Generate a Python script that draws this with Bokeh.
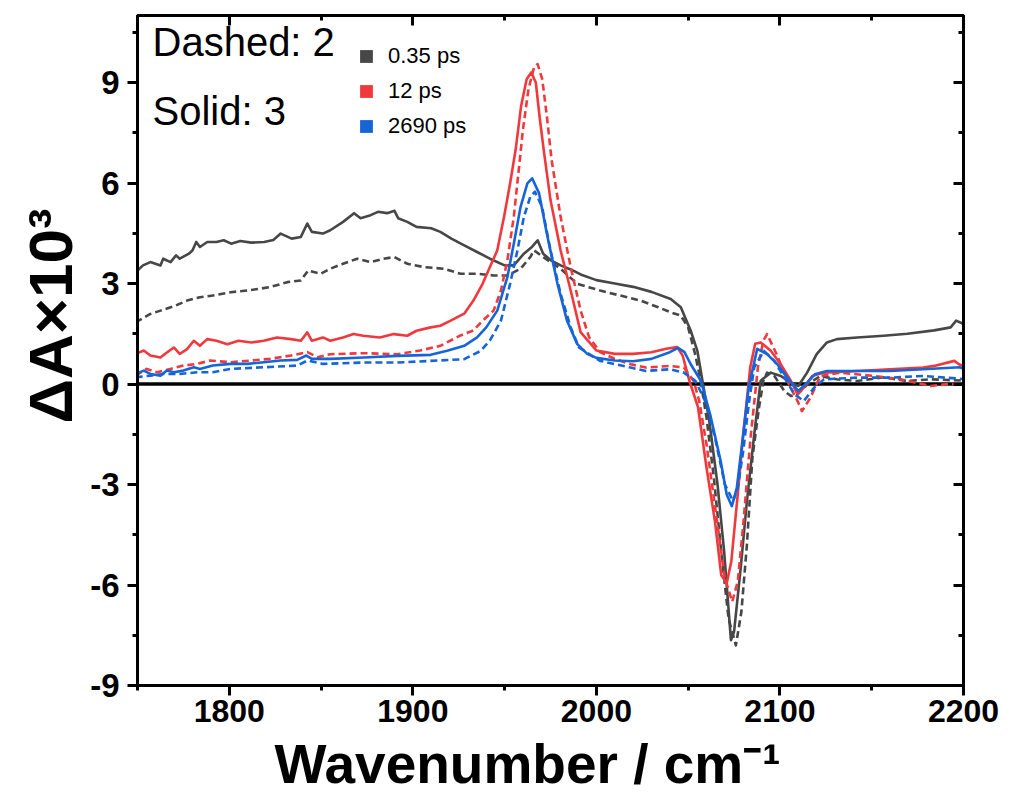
from bokeh.plotting import figure
from bokeh.models import LinearAxis, FixedTicker, Label, Legend, LegendItem, Span
from bokeh.embed import file_html
from bokeh.resources import INLINE

# ---------------- data (wavenumber cm^-1, dA x 10^3) ----------------
gray_solid = [(1749,3.34),(1753,3.54),(1757,3.64),(1762.5,3.54),(1764,3.74),(1768,3.64),(1771,3.84),(1773,3.74),
    (1778,3.89),(1780,3.99),(1782,4.24),(1784,4.09),(1788,4.24),(1793,4.24),(1797,4.29),(1801,4.19),(1806,4.27),
    (1812,4.22),(1819,4.24),(1824,4.30),(1828,4.49),(1834,4.34),(1839,4.39),(1842.5,4.79),(1845,4.54),(1851,4.49),
    (1855,4.59),(1862,4.84),(1868,5.10),(1871.5,4.95),(1877,5.04),(1881,5.14),(1886,5.10),(1890,5.17),(1892,4.95),
    (1897,4.84),(1902,4.69),(1910,4.65),(1915,4.54),(1921,4.34),(1928,4.14),(1935,3.94),(1942,3.74),(1950,3.54),
    (1955,3.54),(1960.5,3.89),(1965,4.10),(1968,4.29),(1971,3.89),(1975,3.70),(1980.5,3.54),(1986,3.42),(1991.4,3.27),
    (2000,3.10),(2010,3.00),(2020,2.90),(2030,2.75),(2040.5,2.54),(2046,2.29),(2051.4,1.59),(2055,0.99),(2057.8,0.09),
    (2061.5,-1.10),(2066,-3.00),(2069.6,-5.00),(2073.3,-7.65),(2075,-7.40),(2078.6,-5.50),(2082,-3.50),(2086,-1.50),
    (2089.5,0.10),(2095,0.34),(2100.4,0.24),(2106,0.04),(2110,-0.06),(2114.8,0.34),(2120,0.89),(2125.6,1.24),
    (2131,1.34),(2142,1.39),(2156.5,1.44),(2169.4,1.50),(2184,1.60),(2193,1.69),(2196,1.89),(2200,1.79)]

gray_dashed = [(1749,1.84),(1757,2.09),(1762.5,2.19),(1770.7,2.34),(1777,2.49),(1784,2.59),(1791,2.64),(1800.7,2.74),
    (1809.8,2.79),(1822,2.89),(1831.6,3.04),(1839,3.09),(1843,3.39),(1849.7,3.29),(1855,3.44),(1862,3.59),
    (1869.7,3.74),(1877,3.64),(1884,3.74),(1890,3.79),(1897,3.59),(1906,3.49),(1917,3.44),(1926,3.29),(1935,3.29),
    (1944,3.24),(1951.5,3.24),(1958.7,3.44),(1964,3.79),(1966,3.99),(1971,3.79),(1980.5,3.44),(1989.6,2.99),
    (2002,2.79),(2013,2.64),(2024,2.49),(2033.7,2.29),(2040.5,2.14),(2046,2.04),(2050,1.69),(2053.8,0.89),
    (2056.5,0.19),(2060,-1.00),(2064,-2.80),(2068,-5.00),(2072,-7.00),(2076,-7.80),(2079,-6.80),(2082,-4.80),
    (2085,-2.20),(2088.6,-0.70),(2091,0.10),(2093,0.34),(2097,0.24),(2102.4,-0.21),(2106,-0.36),(2109.6,-0.31),
    (2115,-0.01),(2122,0.24),(2131,0.14),(2142,0.09),(2156.5,0.20),(2169,0.09),(2182,0.14),(2200,0.10)]

red_solid = [(1749,0.90),(1753.4,1.00),(1757,0.85),(1762.5,0.79),(1766,0.94),(1769.8,1.09),(1773,0.90),(1777,1.04),
    (1780.7,1.29),(1784,1.14),(1788,1.34),(1793,1.29),(1799,1.19),(1805,1.29),(1812,1.24),(1818.8,1.29),(1826,1.39),
    (1833.6,1.34),(1839,1.29),(1842.5,1.54),(1845,1.29),(1851,1.39),(1855,1.29),(1862,1.39),(1867.7,1.49),(1873,1.44),
    (1882,1.39),(1889.6,1.49),(1897,1.44),(1902,1.59),(1909.7,1.69),(1915,1.74),(1920.6,1.89),(1928,2.10),(1933,2.49),
    (1938,2.99),(1942,3.49),(1946,3.99),(1949.7,4.99),(1953,5.99),(1956,6.99),(1959,8.30),(1962,9.10),(1964.5,9.30),
    (1967,9.00),(1969,8.00),(1971.3,6.99),(1975,5.49),(1980.5,3.99),(1986,2.79),(1991.4,1.55),(2000,1.00),(2010,0.90),
    (2020,0.90),(2030,0.95),(2038,1.05),(2044,1.10),(2047,0.85),(2050.7,0.09),(2055.4,-0.70),(2060,-2.50),
    (2064.6,-4.10),(2068,-5.70),(2071,-5.95),(2073.5,-5.30),(2077,-3.30),(2080,-1.50),(2083.8,0.49),(2086.5,1.20),
    (2089.5,1.24),(2095,0.99),(2100.4,0.59),(2106,0.09),(2109.6,-0.31),(2113,-0.11),(2117.6,0.24),(2124,0.34),
    (2142,0.39),(2160,0.44),(2178,0.49),(2184,0.54),(2195,0.69),(2197.5,0.59),(2200,0.54)]

red_dashed = [(1749,0.25),(1755,0.45),(1760.7,0.35),(1768,0.45),(1775,0.55),(1782.5,0.60),(1789.6,0.70),(1800.7,0.65),
    (1812,0.70),(1822,0.75),(1833.6,0.85),(1842.5,0.95),(1848,0.80),(1855,0.89),(1873,0.92),(1891.6,0.89),(1904,1.00),
    (1915,1.14),(1926,1.45),(1933,1.60),(1938,1.89),(1944,2.19),(1948,2.79),(1951.5,3.69),(1955,4.99),(1957.7,6.39),
    (1960,7.60),(1963,8.80),(1966,9.45),(1968,9.55),(1970.5,9.10),(1973,8.00),(1975.6,6.69),(1980.5,4.99),(1986,3.49),
    (1991.4,2.20),(1996,1.40),(2002,0.95),(2010,0.75),(2018.7,0.59),(2027,0.49),(2040,0.54),(2047.7,0.49),(2053,0.09),
    (2056,-0.50),(2060,-1.80),(2065,-3.80),(2070,-5.80),(2074,-6.50),(2077,-5.90),(2080,-4.20),(2084,-1.60),(2088,0.50),
    (2091,1.30),(2093,1.49),(2098.6,0.84),(2104,0.09),(2109.6,-0.51),(2112,-0.81),(2116.6,-0.41),(2122,0.24),
    (2133,0.34),(2151,0.24),(2165.8,0.14),(2182,-0.06),(2192,0.00),(2200,-0.02)]

blue_solid = [(1749,0.30),(1753.4,0.40),(1757,0.30),(1762.5,0.25),(1766,0.40),(1769.8,0.35),(1775,0.40),(1780.7,0.50),
    (1784,0.45),(1791,0.55),(1800.7,0.60),(1809.8,0.60),(1818.8,0.65),(1828,0.70),(1837,0.72),(1842,0.85),(1845,0.75),
    (1855,0.75),(1873.4,0.79),(1891.6,0.84),(1909.7,0.87),(1918.7,0.99),(1928,1.14),(1935,1.39),(1940,1.69),(1946,2.19),
    (1951.5,3.19),(1955,4.19),(1958.7,5.29),(1962.4,5.99),(1965,6.14),(1968.8,5.69),(1973,4.49),(1978.8,2.99),
    (1984,1.89),(1989.6,1.19),(1995,0.90),(2000,0.78),(2010,0.70),(2020,0.68),(2030,0.75),(2040,0.95),(2044.5,1.08),
    (2048,0.95),(2051.4,0.59),(2057,0.09),(2062,-0.91),(2067.7,-2.30),(2071,-3.30),(2073.8,-3.65),(2076.5,-3.10),
    (2080,-1.50),(2083,-0.10),(2087.6,1.05),(2093,0.89),(2098.6,0.59),(2104,0.19),(2110,-0.21),(2114.8,0.04),
    (2119,0.29),(2125.6,0.39),(2142,0.39),(2160,0.39),(2178,0.44),(2198,0.50),(2200,0.45)]

blue_dashed = [(1749,0.20),(1757,0.25),(1764,0.30),(1773,0.30),(1782.5,0.35),(1791,0.35),(1800.7,0.45),(1818.8,0.50),
    (1837,0.55),(1842.5,0.70),(1851,0.60),(1873,0.64),(1891.6,0.64),(1909.7,0.69),(1928,0.74),(1937,0.99),(1942,1.30),
    (1948,1.89),(1953,2.99),(1957,3.99),(1960.5,4.99),(1964,5.59),(1966.5,5.74),(1970.4,5.29),(1975,3.99),
    (1980.5,2.69),(1986,1.69),(1990.5,1.09),(2002,0.69),(2018.7,0.49),(2027,0.39),(2040,0.44),(2047.7,0.34),
    (2054,0.09),(2060,-0.60),(2065,-1.70),(2070,-3.00),(2074.5,-3.50),(2077,-3.10),(2080,-2.00),(2083,-0.60),
    (2086,0.50),(2091.3,0.99),(2097,0.69),(2102.4,0.19),(2108,-0.31),(2113,-0.51),(2118.6,-0.11),(2124,0.14),
    (2142,0.19),(2160,0.19),(2178,0.24),(2200,0.15)]

delay_labels = ["0.35 ps", "12 ps", "2690 ps"]
x_major = [1800, 1900, 2000, 2100, 2200]
x_minor = [1750, 1850, 1950, 2050, 2150]
y_major = [-9, -6, -3, 0, 3, 6, 9]
y_minor = [-7.5, -4.5, -1.5, 1.5, 4.5, 7.5, 10.5]
y_tick_labels = ["-9", "-6", "-3", "0", "3", "6", "9"]

GRAY, RED, BLUE = "#474747", "#F0393C", "#1565D8"
FONT = "Liberation Sans"
NBSP = "\u00a0"

p = figure(width=1013, height=807, x_range=(1750, 2200), y_range=(-9, 11),
           output_backend="svg", toolbar_location=None,
           min_border_left=137, min_border_right=50, min_border_top=15, min_border_bottom=122,
           background_fill_color="white", border_fill_color="white")
p.grid.visible = False
p.outline_line_color = "black"
p.outline_line_width = 3

zero = Span(location=0, dimension="width", line_color="black", line_width=3.5, level="underlay")
p.add_layout(zero)

series = [(gray_dashed, GRAY, "7 4"), (gray_solid, GRAY, "solid"),
          (red_dashed, RED, "7 4"), (red_solid, RED, "solid"),
          (blue_dashed, BLUE, "7 4"), (blue_solid, BLUE, "solid")]
for data, col, dash in series:
    xs = [d[0] for d in data]
    ys = [d[1] for d in data]
    p.line(xs, ys, line_color=col, line_width=2.6, line_dash=dash, line_join="round")

# axes
def style_axis(ax, inward):
    ax.axis_line_width = 3
    ax.axis_line_color = "black"
    ax.major_tick_line_width = 3
    ax.minor_tick_line_width = 3
    ax.major_tick_line_color = "black"
    ax.minor_tick_line_color = "black"
    ax.major_label_text_color = "black"
    ax.axis_label_text_color = "black"
    if inward:
        ax.major_tick_in, ax.major_tick_out = 10, 0
        ax.minor_tick_in, ax.minor_tick_out = 5, 0
    else:
        ax.major_tick_in, ax.major_tick_out = 0, 10
        ax.minor_tick_in, ax.minor_tick_out = 0, 5

xa = p.xaxis[0]
xa.ticker = FixedTicker(ticks=x_major, minor_ticks=x_minor)
style_axis(xa, False)
xa.major_label_text_font = FONT
xa.major_label_text_font_style = "bold"
xa.major_label_text_font_size = "32px"
xa.major_label_standoff = 4
xa.axis_label = "Wavenumber / cm\u207b\u00b9" + NBSP * 3
xa.axis_label_text_font = FONT
xa.axis_label_text_font_style = "bold"
xa.axis_label_text_font_size = "55px"
xa.axis_label_standoff = 8

ya = p.yaxis[0]
ya.ticker = FixedTicker(ticks=y_major, minor_ticks=y_minor)
style_axis(ya, False)
ya.major_label_overrides = {v: s for v, s in zip(y_major, y_tick_labels)}
ya.major_label_text_font = FONT
ya.major_label_text_font_style = "bold"
ya.major_label_text_font_size = "33px"
ya.major_label_standoff = 8
ya.axis_label = NBSP * 4 + "\u0394A\u00d710\u00b3"
ya.axis_label_text_font = FONT
ya.axis_label_text_font_style = "bold"
ya.axis_label_text_font_size = "62px"
ya.axis_label_standoff = 2

top = LinearAxis(ticker=FixedTicker(ticks=x_major, minor_ticks=x_minor),
                 major_label_text_font_size="0px")
style_axis(top, True)
top.major_label_text_color = None
p.add_layout(top, "above")
right = LinearAxis(ticker=FixedTicker(ticks=y_major, minor_ticks=y_minor),
                   major_label_text_font_size="0px")
style_axis(right, True)
right.major_label_text_color = None
p.add_layout(right, "right")

# compound annotation
p.add_layout(Label(x=15, y=622, x_units="screen", y_units="screen", text="Dashed: 2",
                   text_font=FONT, text_font_size="40px", text_color="black"))
p.add_layout(Label(x=15, y=553, x_units="screen", y_units="screen", text="Solid: 3",
                   text_font=FONT, text_font_size="40px", text_color="black"))

# legend for delay times
nan = float("nan")
leg_renderers = []
for col in (GRAY, RED, BLUE):
    leg_renderers.append(p.quad(left=[nan], right=[nan], top=[nan], bottom=[nan],
                                fill_color=col, line_color=None))
legend = Legend(items=[LegendItem(label=l, renderers=[r]) for l, r in zip(delay_labels, leg_renderers)],
                location=(221, 546), orientation="vertical",
                glyph_width=16, glyph_height=16, label_height=24, spacing=9, padding=0, margin=0,
                label_standoff=14, label_text_font=FONT, label_text_font_size="22px",
                label_text_color="black",
                border_line_color=None, background_fill_alpha=0)
p.add_layout(legend)

open("out.html", "w").write(file_html(p, INLINE))
